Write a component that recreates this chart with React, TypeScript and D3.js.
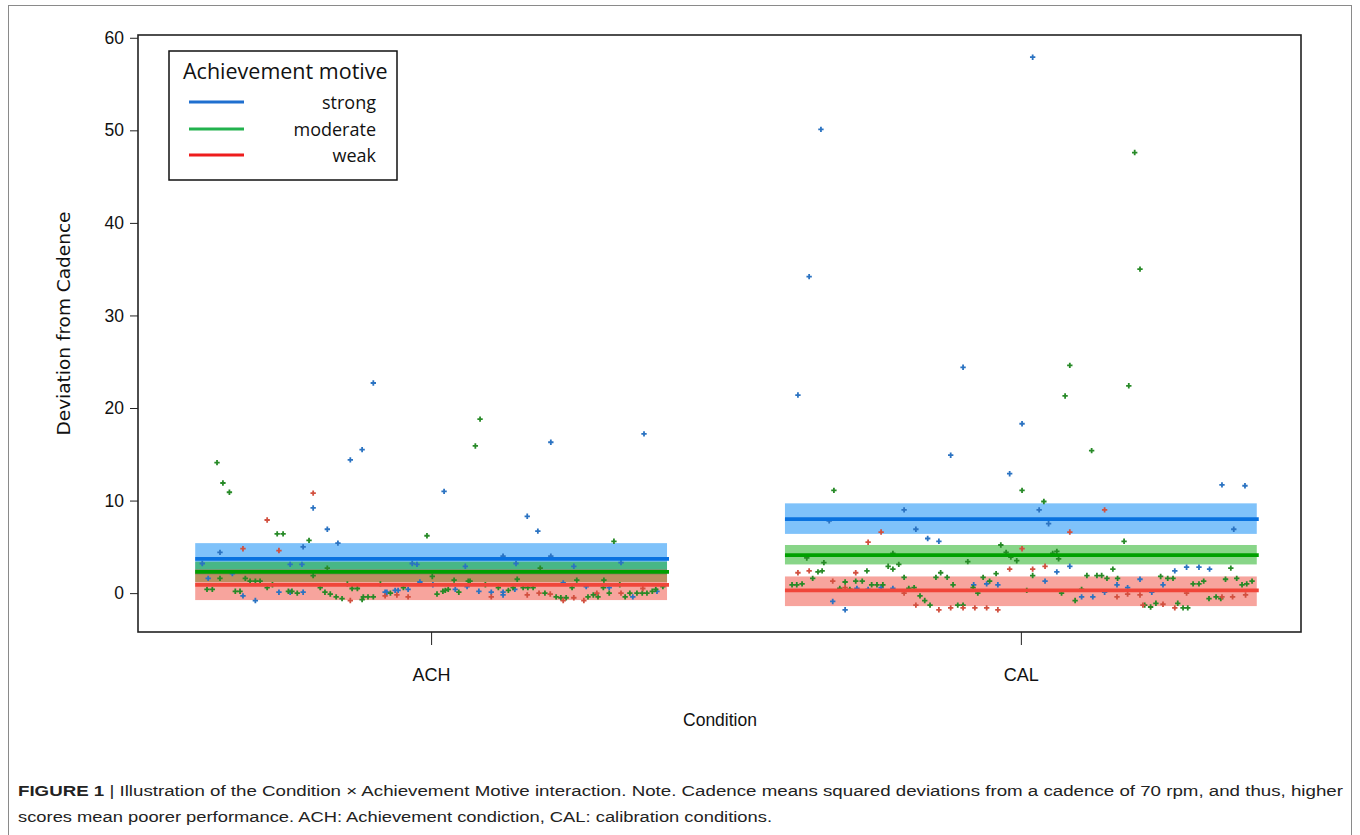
import React, { useEffect, useRef } from 'react'
import * as d3 from 'd3'

// Categories
const conditions = ['ACH', 'CAL']
const motives = ['strong', 'moderate', 'weak']
const yTicks = [0, 10, 20, 30, 40, 50, 60]

// Fitted values and bands (order: strong, moderate, weak)
const achFit = [3.7, 2.3, 0.9]
const achLow = [2.0, 1.2, -0.75]
const achHigh = [5.4, 3.4, 2.55]
const calFit = [8.0, 4.1, 0.3]
const calLow = [6.4, 3.1, -1.4]
const calHigh = [9.7, 5.2, 1.8]

// Residual points: [offset from condition centre, deviation]
const achStrong = [
  [-0.098, 22.7], [-0.137, 14.4], [-0.117, 15.5], [-0.2, 9.2], [-0.176, 6.9], [-0.158, 5.4],
  [-0.358, 4.4], [-0.217, 5.0], [-0.388, 3.2], [-0.239, 3.1], [-0.219, 3.1], [-0.337, 2.1],
  [-0.378, 1.6], [-0.319, -0.3], [-0.298, -0.8], [-0.258, 0.1], [-0.239, 0.1], [-0.217, 0.1],
  [-0.078, 0.1], [-0.075, 0.1], [-0.061, 0.3], [-0.056, 0.3], [-0.039, 0.4], [-0.032, 3.2],
  [-0.024, 3.1], [-0.019, 1.2], [0.022, 11.0], [0.163, 8.3], [0.181, 6.7], [0.203, 16.3],
  [0.361, 17.2], [0.122, 4.0], [0.203, 4.0], [0.144, 3.2], [0.058, 2.9], [0.242, 2.9],
  [0.322, 3.3], [0.003, 0.9], [0.041, 0.4], [0.061, 0.7], [0.081, 0.2], [0.102, 0.1],
  [0.122, 0.1], [0.122, -0.2], [0.142, 0.4], [0.224, 1.1], [0.263, 0.7], [0.302, 0.6],
  [0.342, -0.4], [0.383, 0.2],
]
const achModerate = [
  [-0.363, 14.1], [-0.353, 11.9], [-0.342, 10.9], [-0.261, 6.4], [-0.251, 6.4], [-0.207, 5.7],
  [-0.007, 6.2], [0.083, 18.8], [0.075, 15.9], [0.31, 5.6], [-0.176, 2.7], [-0.358, 1.6],
  [-0.315, 1.6], [-0.307, 1.3], [-0.298, 1.3], [-0.29, 1.3], [-0.278, 0.6], [-0.269, 0.9],
  [-0.2, 1.9], [-0.38, 0.4], [-0.371, 0.4], [-0.332, 0.2], [-0.324, 0.2], [-0.242, 0.2],
  [-0.236, 0.2], [-0.227, 0.0], [-0.188, 0.6], [-0.18, 0.1], [-0.171, -0.1], [-0.161, -0.4],
  [-0.151, -0.6], [-0.142, 1.0], [-0.134, 0.5], [-0.125, 0.5], [-0.117, -0.7], [-0.115, -0.4],
  [-0.107, -0.4], [-0.098, -0.4], [-0.086, 1.0], [-0.069, 0.0], [-0.047, 0.6], [0.002, 1.8],
  [0.039, 1.4], [0.063, 1.3], [0.066, 1.3], [0.146, 1.5], [0.247, 1.4], [0.293, 1.4],
  [0.185, 2.7], [0.01, -0.1], [0.02, 0.2], [0.024, 0.3], [0.029, 0.4], [0.047, 0.1],
  [0.092, 0.9], [0.114, 0.6], [0.131, 0.3], [0.139, 0.6], [0.156, 0.6], [0.164, 0.6],
  [0.173, 0.6], [0.193, 0.0], [0.212, -0.4], [0.22, -0.5], [0.229, -0.5], [0.239, 0.6],
  [0.266, -0.4], [0.275, -0.2], [0.283, -0.4], [0.292, 0.6], [0.302, 0.0], [0.32, 0.9],
  [0.329, -0.4], [0.337, 0.0], [0.349, 0.0], [0.358, 0.0], [0.366, 0.0], [0.375, 0.2],
  [0.381, 0.4], [0.393, 0.7],
]
const achWeak = [
  [-0.2, 10.8], [-0.278, 7.9], [-0.319, 4.8], [-0.258, 4.6], [-0.137, -0.8], [-0.078, -0.3],
  [-0.058, -0.2], [-0.039, -0.4], [0.102, -0.4], [0.163, -0.2], [0.183, 0.0], [0.202, -0.1],
  [0.224, -0.8], [0.242, -0.5], [0.259, -0.8], [0.281, 0.0], [0.322, 0.0], [0.359, 0.5],
]
const calStrong = [
  [0.02, 57.9], [-0.339, 50.1], [-0.359, 34.2], [-0.378, 21.4], [-0.098, 24.4], [0.002, 18.3],
  [-0.119, 14.9], [-0.019, 12.9], [-0.198, 9.0], [-0.325, 7.8], [-0.178, 6.9], [-0.158, 5.9],
  [-0.139, 5.6], [0.341, 11.7], [0.38, 11.6], [0.031, 9.0], [0.047, 7.5], [0.361, 6.9],
  [0.061, 2.3], [0.083, 2.9], [0.041, 1.3], [0.202, 1.5], [0.163, 0.9], [0.181, 0.6],
  [0.241, 0.9], [0.261, 2.4], [0.281, 2.8], [0.302, 2.8], [0.32, 2.6], [0.103, -0.4],
  [0.122, -0.4], [0.142, 0.1], [0.222, 0.1], [-0.319, -0.9], [-0.298, -1.8], [-0.278, 0.5],
  [-0.259, 0.4], [-0.237, 0.6], [-0.217, 0.5], [-0.08, 0.9], [-0.058, 1.0], [-0.039, 0.9],
]
const calModerate = [
  [0.193, 47.6], [0.202, 35.0], [0.083, 24.6], [0.183, 22.4], [0.075, 21.3], [0.12, 15.4],
  [-0.317, 11.1], [0.002, 11.1], [0.039, 9.9], [0.175, 5.6], [-0.034, 5.2], [-0.025, 4.4],
  [-0.363, 3.8], [-0.334, 3.3], [-0.217, 4.3], [-0.207, 3.1], [-0.225, 2.9], [-0.217, 2.6],
  [-0.09, 3.4], [-0.017, 3.9], [-0.007, 3.5], [-0.353, 1.6], [-0.344, 2.3], [-0.337, 2.4],
  [-0.261, 2.4], [-0.042, 2.1], [-0.388, 0.9], [-0.38, 0.9], [-0.371, 1.0], [-0.298, 1.2],
  [-0.307, 0.5], [-0.29, 0.4], [-0.28, 1.3], [-0.269, 1.3], [-0.253, 0.9], [-0.244, 0.9],
  [-0.234, 0.9], [-0.198, 1.7], [-0.19, 0.5], [-0.181, 0.6], [-0.171, -0.3], [-0.163, -0.8],
  [-0.154, -1.3], [-0.144, 1.7], [-0.136, 2.2], [-0.125, 1.7], [-0.115, 0.9], [-0.107, -1.3],
  [-0.098, -1.3], [-0.081, 0.6], [-0.073, 0.0], [-0.064, 1.7], [-0.053, 1.3], [0.01, 0.3],
  [0.054, 4.3], [0.061, 4.5], [0.064, 3.7], [0.02, 1.9], [0.112, 1.9], [0.129, 1.9],
  [0.137, 1.9], [0.146, 1.6], [0.156, 2.6], [0.164, 1.6], [0.237, 1.8], [0.249, 1.6],
  [0.258, 1.6], [0.356, 2.7], [0.292, 1.0], [0.302, 1.0], [0.31, 1.3], [0.319, -0.6],
  [0.331, -0.4], [0.339, -0.6], [0.347, 1.5], [0.366, 1.6], [0.375, 0.9], [0.383, 1.0],
  [0.392, 1.3], [0.21, -1.3], [0.22, -1.5], [0.229, -1.1], [0.266, -1.1], [0.275, -1.6],
  [0.283, -1.6], [0.092, -0.8], [0.103, 0.4], [0.069, 0.0],
]
const calWeak = [
  [-0.237, 6.6], [-0.259, 5.5], [0.002, 4.8], [0.142, 9.0], [0.083, 6.6], [-0.378, 2.2],
  [-0.359, 2.4], [-0.28, 2.2], [-0.019, 2.6], [-0.319, 1.3], [-0.298, 0.6], [-0.198, 0.0],
  [-0.178, -1.3], [-0.139, -1.8], [-0.119, -1.6], [-0.098, -1.6], [-0.078, -1.6], [-0.058, -1.6],
  [-0.039, -1.8], [0.02, 2.6], [0.041, 2.9], [0.281, 0.0], [0.341, -0.4], [0.359, -0.4],
  [0.381, -0.2], [0.241, -1.2], [0.261, -1.6], [0.163, -0.4], [0.181, -0.1], [0.202, -0.2],
  [0.207, -1.3],
]

const lineColors = ['#0a72df', '#00a000', '#f0463a']
const bandColors = ['#0086f5', '#12ab12', '#f04a3c']
const pointColors = ['#2b73c2', '#278a27', '#d2503f']
const legendColors = ['#1f6fcf', '#22b24e', '#ee1c1c']

const W = 1360
const H = 835
const margin = { left: 138, right: 59, top: 35, bottom: 203 }
const halfWidth = 0.4

export default function App() {
  const yAxisRef = useRef(null)
  const xAxisRef = useRef(null)

  const x = d3.scaleLinear().domain([0.503, 2.475]).range([margin.left, W - margin.right])
  const y = d3.scaleLinear().domain([-4.2, 60.3]).range([H - margin.bottom, margin.top])

  useEffect(() => {
    const ya = d3
      .select(yAxisRef.current)
      .call(d3.axisLeft(y).tickValues(yTicks).tickSize(8).tickPadding(6))
    ya.select('.domain').remove()
    ya.attr('font-family', 'Liberation Sans, Arial, sans-serif').attr('font-size', 17.5)
    ya.selectAll('text').attr('fill', '#111')
    ya.selectAll('line').attr('stroke', '#222')

    const xa = d3
      .select(xAxisRef.current)
      .call(
        d3
          .axisBottom(x)
          .tickValues([1, 2])
          .tickFormat((d) => conditions[d - 1])
          .tickSize(13)
          .tickPadding(23)
      )
    xa.select('.domain').remove()
    xa.attr('font-family', 'Liberation Sans, Arial, sans-serif').attr('font-size', 18)
    xa.selectAll('text').attr('fill', '#111')
    xa.selectAll('line').attr('stroke', '#222')
  }, [])

  const groups = [
    { c: 1, fit: achFit, low: achLow, high: achHigh, pts: [achStrong, achModerate, achWeak] },
    { c: 2, fit: calFit, low: calLow, high: calHigh, pts: [calStrong, calModerate, calWeak] },
  ]
  const cross = d3.symbol(d3.symbolCross, 16)()

  const plotBottom = H - margin.bottom
  const legendY = [102, 129, 155]

  return (
    <svg
      width={W}
      height={H}
      style={{ position: 'absolute', left: 0, top: 0, background: '#fff' }}
      fontFamily="Liberation Sans, Arial, sans-serif"
    >
      <rect x={0} y={0} width={W} height={H} fill="#fff" />
      {/* outer figure frame */}
      <rect x={8.5} y={5.5} width={1343} height={900} fill="none" stroke="#8a8a8a" strokeWidth={1} />

      {/* bands */}
      {groups.map((g) =>
        motives.map((m, i) => (
          <rect
            key={`b${g.c}${m}`}
            x={x(g.c - halfWidth)}
            width={x(g.c + halfWidth) - x(g.c - halfWidth)}
            y={y(g.high[i])}
            height={y(g.low[i]) - y(g.high[i])}
            fill={bandColors[i]}
            fillOpacity={0.5}
          />
        ))
      )}

      {/* points */}
      {groups.map((g) =>
        g.pts.map((set, i) =>
          set.map((p, k) => (
            <path
              key={`p${g.c}${i}${k}`}
              d={cross}
              transform={`translate(${x(g.c + p[0])},${y(p[1])})`}
              fill={pointColors[i]}
            />
          ))
        )
      )}

      {/* fitted lines */}
      {groups.map((g) =>
        motives.map((m, i) => (
          <line
            key={`l${g.c}${m}`}
            x1={x(g.c - halfWidth)}
            x2={x(g.c + halfWidth) + 2}
            y1={y(g.fit[i])}
            y2={y(g.fit[i])}
            stroke={lineColors[i]}
            strokeWidth={3.8}
          />
        ))
      )}

      {/* plot box */}
      <rect
        x={margin.left}
        y={margin.top}
        width={W - margin.left - margin.right}
        height={plotBottom - margin.top}
        fill="none"
        stroke="#222"
        strokeWidth={1.6}
      />

      <g ref={yAxisRef} transform={`translate(${margin.left},0)`} />
      <g ref={xAxisRef} transform={`translate(0,${plotBottom})`} />

      <text
        transform={`translate(70,${(margin.top + plotBottom) / 2 - 10}) rotate(-90)`}
        textAnchor="middle"
        fontFamily="DejaVu Sans, Verdana, sans-serif"
        fontSize={18.5}
        fill="#111"
      >
        Deviation from Cadence
      </text>
      <text x={720} y={726} textAnchor="middle" fontSize={17.5} fill="#111">
        Condition
      </text>

      {/* legend */}
      <rect x={169} y={51} width={228} height={129} fill="#fff" stroke="#111" strokeWidth={1.5} />
      <text x={183} y={79} fontFamily="Open Sans, sans-serif" fontSize={21.5} fill="#111">
        Achievement motive
      </text>
      {motives.map((m, i) => (
        <g key={`lg${m}`}>
          <line x1={189} x2={244} y1={legendY[i]} y2={legendY[i]} stroke={legendColors[i]} strokeWidth={3} />
          <text
            x={376}
            y={legendY[i] + 7}
            textAnchor="end"
            fontFamily="Open Sans, sans-serif"
            fontSize={18}
            fill="#111"
          >
            {m}
          </text>
        </g>
      ))}

      {/* caption */}
      <text x={18} y={796} fontSize={15.5} fill="#222" textLength={1325} lengthAdjust="spacingAndGlyphs">
        <tspan fontWeight="bold">FIGURE 1</tspan>
        <tspan> | Illustration of the Condition × Achievement Motive interaction. Note. Cadence means squared deviations from a cadence of 70 rpm, and thus, higher</tspan>
      </text>
      <text x={18} y={822} fontSize={15.5} fill="#222" textLength={754} lengthAdjust="spacingAndGlyphs">
        scores mean poorer performance. ACH: Achievement condiction, CAL: calibration conditions.
      </text>
    </svg>
  )
}
